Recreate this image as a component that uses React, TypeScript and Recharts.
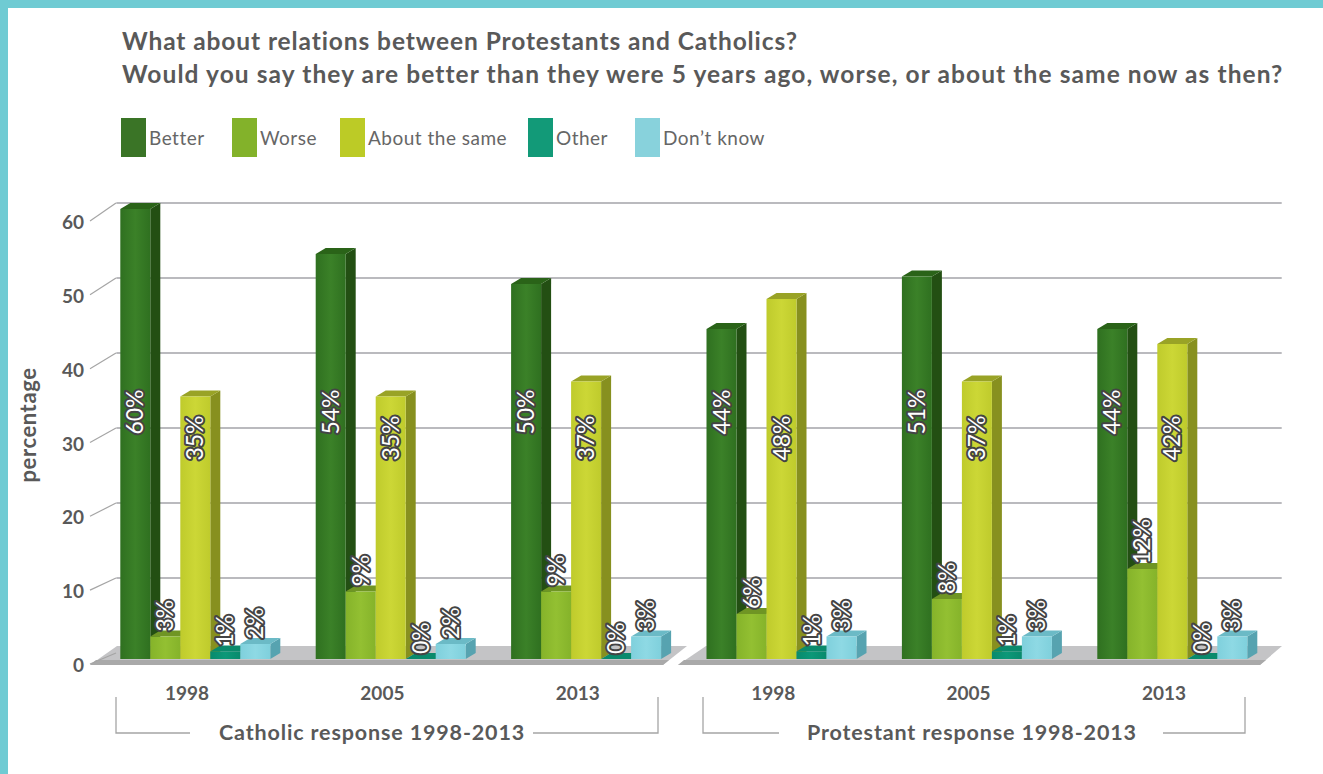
import { Bar, BarChart, CartesianGrid, LabelList, Legend, XAxis, YAxis } from "recharts";

const years = ["1998", "2005", "2013", "1998", "2005", "2013"];
const better = [60, 54, 50, 44, 51, 44];
const worse = [3, 9, 9, 6, 8, 12];
const aboutSame = [35, 35, 37, 48, 37, 42];
const other = [1, 0, 0, 1, 1, 0];
const dontKnow = [2, 2, 3, 3, 3, 3];
const yTicks = [0, 10, 20, 30, 40, 50, 60];
const titleLines = [
  "What about relations between Protestants and Catholics?",
  "Would you say they are better than they were 5 years ago, worse, or about the same now as then?",
];
const titleSpacing = [0.9, 1.09];

const rows = years.map((year, i) => ({
  key: `${year}-${i}`,
  year,
  better: better[i],
  worse: worse[i],
  aboutSame: aboutSame[i],
  other: other[i],
  dontKnow: dontKnow[i],
}));

const TEXT = "#595959";
const FONT = "Lato, 'Noto Sans', sans-serif";
const DEPTH_X = 10;
const DEPTH_Y = 6;

const series = [
  { key: "better", name: "Better", edge: "#2f7020", mid: "#3b8128", side: "#234f13", top: "#2a6318", swatch: "#3a7426", labelBase: 247 },
  { key: "worse", name: "Worse", edge: "#85b32a", mid: "#93c032", side: "#5d7d1d", top: "#6f9524", swatch: "#83b22a" },
  { key: "aboutSame", name: "About the same", edge: "#bfcb2c", mid: "#ccd736", side: "#87901f", top: "#99a326", swatch: "#bccb26", labelBase: 221 },
  { key: "other", name: "Other", edge: "#088a6d", mid: "#0c9878", side: "#077a60", top: "#0a8a6c", swatch: "#129a78" },
  { key: "dontKnow", name: "Don\u2019t know", edge: "#7fd0dc", mid: "#8ed9e4", side: "#57a3b0", top: "#6bbac6", swatch: "#88d2dc" },
];
const legendX = [121, 232, 340, 528, 635];

// Front, side and top faces of a fake 3D column
function Column(props: any) {
  const { x, y, width, height, fillId, side, top } = props;
  const right = x + width;
  const bottom = y + height;
  return (
    <g>
      <polygon
        points={`${right},${y} ${right + DEPTH_X},${y - DEPTH_Y} ${right + DEPTH_X},${bottom - DEPTH_Y} ${right},${bottom}`}
        fill={side}
      />
      <polygon
        points={`${x},${y} ${x + DEPTH_X},${y - DEPTH_Y} ${right + DEPTH_X},${y - DEPTH_Y} ${right},${y}`}
        fill={top}
      />
      <rect x={x} y={y} width={width} height={height} fill={`url(#${fillId})`} />
    </g>
  );
}

function barLabel(labelBase?: number) {
  return (props: any) => {
    const { x, y, width, height, value } = props;
    const cx = x + width / 2;
    const bottom = y + height;
    // tall columns carry the label inside at a fixed height, short ones above the top
    const inside = labelBase !== undefined;
    const cy = inside ? bottom - labelBase : y - 5;
    return (
      <text
        transform={`translate(${cx + 8},${cy}) rotate(-90)`}
        textAnchor={inside ? "middle" : "start"}
        fontFamily={FONT}
        fontSize={23}
        fill="#fff"
        stroke="#444"
        strokeWidth={4}
        paintOrder="stroke"
        strokeLinejoin="round"
      >
        {value}%
      </text>
    );
  };
}

function ValueTick(props: any) {
  const { y, payload } = props;
  // the axis sits on the front edge of the floor, the grid on the back wall
  const frontY = y + 6 + (7 * payload.value) / 60;
  return (
    <g>
      <text x={84} y={frontY} dy={7} textAnchor="end" fontFamily={FONT} fontSize={19} fontWeight={700} fill={TEXT}>
        {payload.value}
      </text>
      <line x1={90} y1={frontY - 1} x2={116} y2={y - 6} stroke="#a5a5a5" strokeWidth={1.2} />
    </g>
  );
}

function YearTick(props: any) {
  const { x, y, payload } = props;
  return (
    <text x={x - 8} y={y} dy={33} textAnchor="middle" fontFamily={FONT} fontSize={19} fontWeight={700} fill={TEXT}>
      {String(payload.value).split("-")[0]}
    </text>
  );
}

function GridLine(props: any) {
  const { x1, x2, y1 } = props;
  if (y1 > 650) return <g />;
  return <line x1={x1 + 19} x2={x2 + 12} y1={y1 - 6} y2={y1 - 6} stroke="#a3a3a8" strokeWidth={1.3} />;
}

function LegendRow() {
  return (
    <svg width={760} height={50} style={{ display: "block" }}>
      {series.map((s, i) => {
        const left = legendX[i] - 121;
        return (
          <g key={s.key}>
            <rect x={left} y={5} width={25} height={39} fill={s.swatch} />
            <text x={left + 28} y={32} fontFamily={FONT} fontSize={19} letterSpacing={0.5} fill="#666">
              {s.name}
            </text>
          </g>
        );
      })}
    </svg>
  );
}

// Bracket under each response group: tick up at both ends, gap for the caption
function Bracket({ x1, x2, gapStart, gapEnd }: { x1: number; x2: number; gapStart: number; gapEnd: number }) {
  return (
    <g fill="none" stroke="#a5a5a5" strokeWidth={1.3}>
      <polyline points={`${x1},697 ${x1},733 ${gapStart},733`} />
      <polyline points={`${gapEnd},733 ${x2},733 ${x2},697`} />
    </g>
  );
}

export default function App() {
  return (
    <div style={{ position: "absolute", left: 0, top: 0, width: 1323, height: 774, background: "#fff", overflow: "hidden" }}>
      <svg width={1323} height={774} style={{ position: "absolute", left: 0, top: 0 }}>
        <defs>
          {series.map((s) => (
            <linearGradient key={s.key} id={`face-${s.key}`} x1="0" x2="1" y1="0" y2="0">
              <stop offset="0" stopColor={s.edge} />
              <stop offset="0.5" stopColor={s.mid} />
              <stop offset="1" stopColor={s.edge} />
            </linearGradient>
          ))}
        </defs>
        <rect x={0} y={0} width={1323} height={8} fill="#6fcbd3" />
        <rect x={0} y={0} width={8} height={774} fill="#6fcbd3" />
        {titleLines.map((line, i) => (
          <text key={i} x={122} y={50 + i * 33} fontFamily={FONT} fontSize={24.5} fontWeight={700} letterSpacing={titleSpacing[i]} fill={TEXT}>
            {line}
          </text>
        ))}
        <text transform="translate(36,425) rotate(-90)" textAnchor="middle" fontFamily={FONT} fontSize={22} fontWeight={700} letterSpacing={0.6} fill={TEXT}>
          percentage
        </text>
        {/* floor, split into one slab per response group */}
        <polygon points="117,646 687,646 663,665 90,665" fill="#c4c4c6" />
        <polygon points="90,665 663,665 669,660 96,660" fill="#a9a9a9" />
        <polygon points="706,646 1282,646 1260,665 678,665" fill="#c4c4c6" />
        <polygon points="678,665 1260,665 1266,660 684,660" fill="#a9a9a9" />
        <Bracket x1={116} x2={658} gapStart={190} gapEnd={533} />
        <Bracket x1={703} x2={1245} gapStart={779} gapEnd={1163} />
        <text x={219} y={740} fontFamily={FONT} fontSize={21.5} fontWeight={700} letterSpacing={0.85} fill={TEXT}>
          Catholic response 1998-2013
        </text>
        <text x={807} y={740} fontFamily={FONT} fontSize={21.5} fontWeight={700} letterSpacing={0.85} fill={TEXT}>
          Protestant response 1998-2013
        </text>
      </svg>
      <div style={{ position: "absolute", left: 0, top: 0 }}>
        <BarChart
          width={1323}
          height={774}
          data={rows}
          barSize={30}
          barGap={0}
          margin={{ top: 209, right: 53.3, bottom: 75, left: 37.3 }}
        >
          <CartesianGrid vertical={false} horizontal={GridLine as any} />
          <XAxis dataKey="key" height={40} axisLine={false} tickLine={false} tick={YearTick} interval={0} />
          <YAxis width={60} domain={[0, 60]} ticks={yTicks} axisLine={false} tickLine={false} tick={ValueTick} interval={0} />
          <Legend
            layout="horizontal"
            verticalAlign="middle"
            align="center"
            content={LegendRow as any}
            wrapperStyle={{ position: "absolute", left: 121, top: 113, width: 760, height: 50 }}
          />
          {series.map((s) => (
            <Bar
              key={s.key}
              dataKey={s.key}
              name={s.name}
              fill={s.mid}
              isAnimationActive={false}
              shape={(p: any) => <Column {...p} fillId={`face-${s.key}`} side={s.side} top={s.top} />}
            >
              <LabelList dataKey={s.key} content={barLabel(s.labelBase) as any} />
            </Bar>
          ))}
        </BarChart>
      </div>
    </div>
  );
}
